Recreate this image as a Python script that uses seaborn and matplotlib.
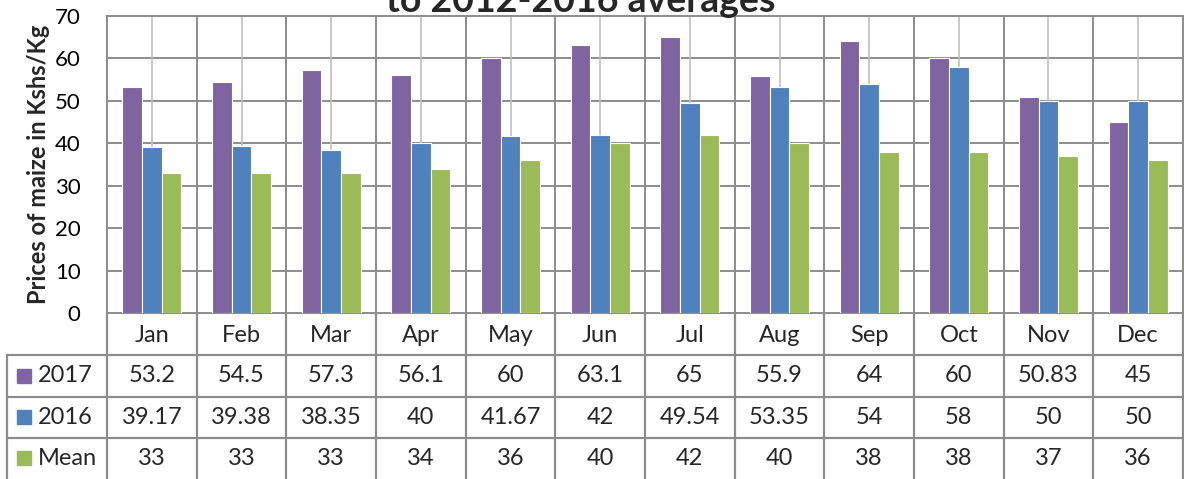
import numpy as np
import pandas as pd
import seaborn as sns
import matplotlib.pyplot as plt
from matplotlib.patches import Rectangle

# data
months = ["Jan", "Feb", "Mar", "Apr", "May", "Jun", "Jul", "Aug", "Sep", "Oct", "Nov", "Dec"]
series = ["2017", "2016", "Mean"]
price_2017 = [53.2, 54.5, 57.3, 56.1, 60, 63.1, 65, 55.9, 64, 60, 50.83, 45]
price_2016 = [39.17, 39.38, 38.35, 40, 41.67, 42, 49.54, 53.35, 54, 58, 50, 50]
price_mean = [33, 33, 33, 34, 36, 40, 42, 40, 38, 38, 37, 36]
colors = ["#8064A2", "#4F81BD", "#9BBB59"]

df = pd.DataFrame({
    "month": months * 3,
    "series": np.repeat(series, len(months)),
    "price": price_2017 + price_2016 + price_mean,
})

sns.set_style("white")
plt.rcParams["font.family"] = ["Lato", "DejaVu Sans"]

W, H = 1184, 479
fig = plt.figure(figsize=(W / 100, H / 100), dpi=100)

# pixel layout of the plot area
ax_l, ax_r, ax_t, ax_b = 107, 1183, 16, 313
ax = fig.add_axes([ax_l / W, (H - ax_b) / H, (ax_r - ax_l) / W, (ax_b - ax_t) / H])

grid_c = "#8c8c8c"
minor_c = "#c0c0c0"

sns.barplot(data=df, x="month", y="price", hue="series", palette=colors, saturation=1,
            width=0.66, edgecolor="white", linewidth=0.8, ax=ax, legend=False, zorder=3)

ax.set_xlim(-0.5, len(months) - 0.5)
ax.set_ylim(0, 70)
ax.set_yticks(range(0, 71, 10))
ax.set_xticks([])
ax.set_xlabel("")
ax.grid(False)
for y in range(10, 71, 10):
    ax.axhline(y, color=grid_c, lw=1.4, zorder=1)
for i in range(len(months)):
    ax.axvline(i - 0.5, color=grid_c, lw=1.4, zorder=1)
    ax.axvline(i, color=minor_c, lw=1.2, zorder=1)
for s in ax.spines.values():
    s.set_color(grid_c)
    s.set_linewidth(1.4)
ax.tick_params(axis="y", length=0, pad=19, labelsize=16, colors="black")
ax.set_ylabel("Prices of maize in Kshs/Kg", fontsize=17, fontweight="bold")
ax.yaxis.set_label_coords(-0.053, 0.5)

# data table under the plot
cw = (ax_r - ax_l) / len(months)
tx0 = -0.5 - (ax_l - 7) / cw
tax = fig.add_axes([7 / W, 0, (ax_r - 7) / W, (H - ax_b) / H])
tax.set_xlim(tx0, len(months) - 0.5)
tax.set_ylim(H, ax_b)
tax.axis("off")

rows = [ax_b, 355, 397, 438, H]
lw_t = 1.6
for i in range(len(months) + 1):
    tax.plot([i - 0.5, i - 0.5], [ax_b, H], color=grid_c, lw=lw_t, clip_on=False)
tax.plot([tx0, tx0], [rows[1], H], color=grid_c, lw=lw_t, clip_on=False)
for y in rows[1:4]:
    tax.plot([tx0, len(months) - 0.5], [y, y], color=grid_c, lw=lw_t, clip_on=False)

fs = 17
for i, m in enumerate(months):
    tax.text(i, (rows[0] + rows[1]) / 2 + 2, m, ha="center", va="center", fontsize=fs)

values = [price_2017, price_2016, price_mean]
for r, (name, vals, col) in enumerate(zip(series, values, colors)):
    yc = (rows[r + 1] + rows[r + 2]) / 2
    tax.add_patch(Rectangle((tx0 + 10 / cw, yc - 7), 14 / cw, 14, color=col, clip_on=False))
    tax.text(tx0 + 31 / cw, yc, name, ha="left", va="center", fontsize=fs)
    for i, v in enumerate(vals):
        tax.text(i, yc, f"{v:g}", ha="center", va="center", fontsize=fs)

# title is mostly cropped off in the source image
fig.text(581 / W, (H - 12) / H, "to 2012-2016 averages", ha="center", va="baseline",
         fontsize=27, fontweight="bold")

fig.savefig("out.png", dpi=100)
